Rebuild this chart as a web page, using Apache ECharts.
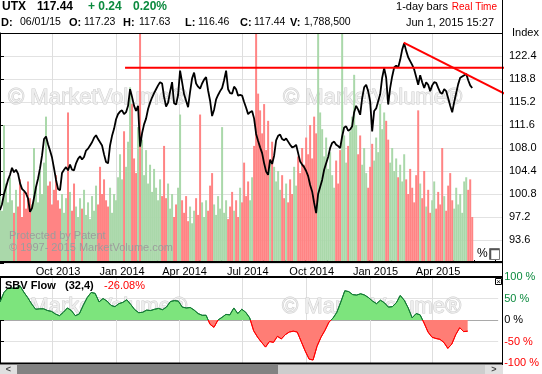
<!DOCTYPE html>
<html><head><meta charset="utf-8">
<script src="https://cdn.jsdelivr.net/npm/echarts@6/dist/echarts.min.js"></script>
<style>html,body{margin:0;padding:0;background:#fff}#c{width:542px;height:374px}</style>
</head><body><div id="c"></div>
<script>
// ---------------- data ----------------
const startDate = '2013-07-18';
const stepDays = 2.88;      // spacing of price / volume samples (days)
const sbvStepDays = 5.76;   // spacing of SBV samples (days)
const endDate = '2015-07-12';

const prices = [98.3,99.2,100.8,101.9,103.0,103.8,104.9,104.2,104.6,104.0,
102.5,101.6,101.3,100.9,100.1,98.0,98.6,100.2,101.9,103.2,
104.8,106.8,109.4,109.8,108.6,107.6,106.5,104.8,103.0,101.6,
101.4,104.1,104.6,105.0,104.5,105.4,104.6,104.5,105.6,106.3,
106.7,106.2,106.6,107.6,107.9,108.4,108.9,109.6,110.0,109.4,
108.9,108.4,107.0,105.8,105.6,108.4,109.9,111.0,112.5,113.3,
113.7,113.9,113.3,113.6,114.6,117.2,116.0,114.6,113.8,114.6,
108.2,110.3,111.7,112.6,114.1,115.1,115.9,116.6,117.2,117.8,
118.3,118.1,116.0,114.5,115.1,116.8,118.3,115.0,114.8,116.3,
120.1,118.3,116.4,115.4,114.4,116.8,118.9,119.8,118.1,117.6,
117.3,118.1,118.7,119.1,117.0,115.4,113.0,114.0,115.6,116.3,
116.9,117.4,118.6,120.1,117.2,116.6,116.5,117.6,117.2,116.2,
116.3,116.2,115.2,114.3,113.3,113.6,113.8,112.6,110.2,109.1,
108.1,107.2,105.6,104.3,103.8,106.2,105.5,106.8,109.2,109.9,
110.1,109.4,109.2,109.5,109.0,108.5,108.1,108.2,108.5,107.2,
105.9,105.4,105.0,104.4,103.6,102.2,101.2,99.4,97.8,100.8,
101.9,103.0,104.6,105.6,106.6,108.0,108.8,109.0,108.5,108.3,
108.0,109.8,111.2,111.4,110.7,110.9,111.4,113.6,114.6,114.0,
113.2,115.8,117.5,117.9,116.9,115.3,110.6,113.8,114.2,115.3,
116.4,119.0,120.5,119.0,114.8,117.4,119.2,120.6,120.9,120.6,
121.8,123.4,124.4,123.2,122.2,121.6,121.0,120.3,119.1,117.9,
119.4,118.3,117.4,118.3,117.9,116.9,117.8,118.3,118.2,117.4,
116.7,116.5,117.2,116.9,115.8,114.6,113.6,115.2,116.6,118.0,
119.0,119.2,119.4,119.6,118.6,117.8,117.4];

// volume, millions of shares
const volumes = [3.2,2.5,6.6,3.8,2.9,4.1,3.0,2.4,3.5,2.7,4.0,2.2,3.4,2.6,3.9,3.1,2.8,5.5,3.6,2.9,4.4,3.3,4.8,7.0,3.7,
3.9,2.8,3.5,4.2,3.0,2.6,3.3,2.4,3.1,7.2,3.4,2.5,3.8,2.7,2.2,3.1,2.6,3.5,2.3,2.9,2.1,3.2,2.5,3.7,2.8,4.6,3.3,4.0,3.0,2.7,3.6,2.4,3.3,
3.0,4.1,5.2,4.0,6.3,4.6,5.8,8.4,7.6,5.0,4.3,6.5,11.5,5.9,4.2,5.4,3.8,4.7,3.4,4.5,3.6,3.0,4.0,3.2,5.6,
3.1,3.8,2.6,3.3,2.2,2.8,3.6,7.1,3.0,2.4,3.2,2.0,2.7,1.9,2.5,3.1,2.3,7.1,2.9,2.2,3.0,2.5,3.7,4.3,2.8,2.3,3.2,2.6,6.5,2.4,3.0,2.1,2.7,3.4,2.5,3.0,2.2,3.6,2.9,4.8,3.2,3.9,3.0,
4.1,5.6,11.5,8.1,7.3,6.2,7.6,5.4,6.8,4.9,5.8,4.6,3.9,4.4,3.5,4.2,3.1,3.8,2.9,4.0,3.3,4.6,3.7,5.1,4.3,5.5,4.7,6.0,5.2,6.6,5.0,7.0,6.2,11.5,7.2,6.4,5.1,6.0,4.5,5.3,
4.2,3.6,4.9,3.8,5.4,11.3,6.1,4.8,5.6,6.3,7.0,9.0,6.6,5.2,6.1,4.7,5.5,4.3,3.6,4.6,5.7,4.9,6.0,5.3,7.6,6.4,7.2,6.8,5.9,4.8,5.5,4.4,5.0,4.1,4.7,
3.9,5.2,4.0,3.3,4.5,3.6,2.9,4.2,7.3,3.8,3.1,4.4,2.7,3.5,2.4,3.0,3.9,2.6,3.4,2.8,5.5,3.2,2.5,3.7,4.3,3.0,2.6,3.6,2.8,3.3,2.4,3.9,4.1,3.5,4.0,2.2];

// SBV Flow (32,4), percent
const sbvFlow = [42,64,74,74,74,80,65,52,37,25,26,26,22,20,14,10,18,28,22,10,
14,34,52,64,62,42,50,44,34,31,38,41,47,36,24,17,18,23,22,25,
27,24,30,43,45,44,30,28,29,23,15,11,11,-10,-17,0,6,13,12,28,
15,25,18,5,-25,-40,-52,-63,-50,-52,-38,-44,-34,-28,-26,-28,-50,-72,-91,-93,
-61,-40,-24,-5,4,18,42,68,66,59,58,61,58,52,44,38,46,40,30,31,
40,57,46,28,5,15,12,-7,-28,-40,-43,-45,-52,-66,-56,-34,-18,-27,-26];

const quarterTicks = ['2013-10-01','2014-01-01','2014-04-01','2014-07-01','2014-10-01','2015-01-01','2015-04-01'];
const quarterLabels = ['Oct 2013','Jan 2014','Apr 2014','Jul 2014','Oct 2014','Jan 2015','Apr 2015'];
const monthTicks = ['2013-08-01','2013-09-01','2013-10-01','2013-11-01','2013-12-01','2014-01-01','2014-02-01','2014-03-01',
'2014-04-01','2014-05-01','2014-06-01','2014-07-01','2014-08-01','2014-09-01','2014-10-01','2014-11-01','2014-12-01',
'2015-01-01','2015-02-01','2015-03-01','2015-04-01','2015-05-01','2015-06-01','2015-07-01'];
const priceMin = 90, priceMax = 126, priceStep = 3.6;

const trendFlat = [['2014-01-14',120.55],['2015-07-20',120.55]];
const trendDown = [['2015-02-19',124.5],['2015-07-20',116.2]];

// ---------------- build ----------------
const DAY = 86400000;
function ts(s){const p=s.split('-').map(Number);return Date.UTC(p[0],p[1]-1,p[2]);}
const t0 = ts(startDate);
function dayOf(s){return Math.round((ts(s)-t0)/DAY);}   // days since start
const RED = '#ff8484', GREEN = '#aad8aa';
const priceData = prices.map((v,i)=>[i*stepDays, v]);
const volData = volumes.map((v,i)=>({value:[i*stepDays, v],
  itemStyle:{color:(i>0 && prices[i] < prices[i-1]) ? RED : GREEN}}));
const sbvData = sbvFlow.map((v,i)=>[i*sbvStepDays, v]);
const qDays = quarterTicks.map(dayOf);
const mDays = monthTicks.map(dayOf);
const xMax = dayOf(endDate);
const FONT = '"Liberation Sans", Arial, sans-serif';

function txt(x,y,text,opt){
  opt = opt||{};
  const st = {text:text, font:(opt.bold?'bold ':'')+(opt.size||11)+'px '+FONT,
      fill:opt.color||'#000', align:opt.align||'left', verticalAlign:'middle',
      textAlign:opt.align||'left', textVerticalAlign:'middle'};
  if (opt.stroke) { st.stroke = opt.stroke; st.lineWidth = opt.lw||1; }
  return {type:'text', x:x, y:y, z:opt.z==null?100:opt.z, silent:true, style:st};
}
function rect(x,y,w,h,fill,stroke,z){
  const st = {fill:fill};
  if (stroke) { st.stroke = stroke; st.lineWidth = 1; }
  return {type:'rect', silent:true, z:z==null?100:z, shape:{x:x,y:y,width:w,height:h}, style:st};
}
function wm(x,y){
  return txt(x,y,'© MarketVolume®',{size:22,color:'#eeeeee',stroke:'#cccccc',lw:1,z:1});
}

const chart = echarts.init(document.getElementById('c'), null, {renderer:'canvas'});
chart.setOption({
  animation:false,
  backgroundColor:'#fff',
  grid:[
    {left:0, top:33, width:503, height:230},
    {left:0, top:277, width:503, height:86}
  ],
  xAxis:[
    {type:'value', gridIndex:0, min:0, max:xMax,
     axisLine:{show:false},
     axisTick:{show:true, inside:true, length:3, customValues:mDays, lineStyle:{color:'#000'}},
     axisLabel:{show:true, customValues:qDays, margin:3, fontSize:11, fontFamily:FONT, color:'#000',
       padding:[0,0,0,12],
       formatter:function(v){const k=qDays.indexOf(Math.round(v));return k>=0?quarterLabels[k]:'';}},
     splitLine:{show:false}},
    {type:'value', gridIndex:1, min:0, max:xMax,
     axisLine:{show:false}, axisTick:{show:false}, axisLabel:{show:false}, splitLine:{show:false}}
  ],
  yAxis:[
    {type:'value', gridIndex:0, position:'right', min:priceMin, max:priceMax, interval:priceStep,
     axisLine:{show:true, lineStyle:{color:'#000'}},
     axisTick:{show:true, length:4, lineStyle:{color:'#000'}},
     axisLabel:{margin:6, fontSize:11, fontFamily:FONT, color:'#000',
       formatter:function(v){ if(v<=priceMin+0.01||v>=priceMax-0.01) return ''; return v.toFixed(1);}},
     splitLine:{show:true, lineStyle:{color:'#e2e2e2', width:1}}},
    {type:'value', gridIndex:0, min:0, max:11, show:false, splitLine:{show:false}},
    {type:'value', gridIndex:1, position:'right', min:-100, max:100, interval:50,
     axisLine:{show:true, lineStyle:{color:'#000'}},
     axisTick:{show:true, length:4, lineStyle:{color:'#000'}},
     axisLabel:{margin:6, fontSize:11, fontFamily:FONT,
       formatter:function(v){ if(v>0) return '{g|'+v+' %}'; if(v<0) return '{r|'+v+' %}'; return '{k|0 %}'; },
       rich:{g:{color:'#0b8a3e',fontSize:11,fontFamily:FONT}, r:{color:'#ff0000',fontSize:11,fontFamily:FONT}, k:{color:'#000',fontSize:11,fontFamily:FONT}}},
     splitLine:{show:true, lineStyle:{color:['#e2e2e2','#e2e2e2','#a9a9a9','#e2e2e2','#e2e2e2'], width:1}}}
  ],
  visualMap:[
    {type:'piecewise', show:false, seriesIndex:4, dimension:1,
     pieces:[{min:-200, max:0, color:'#ff7d75'},{gt:0, lte:200, color:'#7de47d'}]},
    {type:'piecewise', show:false, seriesIndex:5, dimension:1,
     pieces:[{min:-200, max:0, color:'#ff0000'},{gt:0, lte:200, color:'#117a33'}]}
  ],
  series:[
    {type:'bar', xAxisIndex:0, yAxisIndex:1, data:volData, barWidth:2, z:2, silent:true},
    {type:'line', xAxisIndex:0, yAxisIndex:0, data:priceData, symbol:'none', z:5, silent:true,
     lineStyle:{color:'#000', width:1.8}},
    {type:'line', xAxisIndex:0, yAxisIndex:0, data:trendFlat.map(p=>[dayOf(p[0]),p[1]]), symbol:'none', z:6, clip:false, silent:true,
     lineStyle:{color:'#ff0000', width:2}},
    {type:'line', xAxisIndex:0, yAxisIndex:0, data:trendDown.map(p=>[dayOf(p[0]),p[1]]), symbol:'none', z:6, clip:false, silent:true,
     lineStyle:{color:'#ff0000', width:2}},
    {type:'line', xAxisIndex:1, yAxisIndex:2, data:sbvData, symbol:'none', z:3, silent:true,
     lineStyle:{width:0, opacity:0}, areaStyle:{opacity:1}},
    {type:'line', xAxisIndex:1, yAxisIndex:2, data:sbvData, symbol:'none', z:4, silent:true,
     lineStyle:{width:1}}
  ]
});

// vertical quarter gridlines, positioned through the x axis scale
const gridLines = [];
qDays.forEach(q => {
  const px = Math.round(chart.convertToPixel({xAxisIndex:0}, q)) + 0.5;
  const top0 = chart.convertToPixel({yAxisIndex:0}, priceMax), bot0 = chart.convertToPixel({yAxisIndex:0}, priceMin);
  const top1 = chart.convertToPixel({yAxisIndex:2}, 100), bot1 = chart.convertToPixel({yAxisIndex:2}, -100);
  gridLines.push({type:'line', silent:true, z:1, shape:{x1:px,y1:top0,x2:px,y2:bot0}, style:{stroke:'#dedede',lineWidth:1}});
  gridLines.push({type:'line', silent:true, z:1, shape:{x1:px,y1:top1,x2:px,y2:bot1}, style:{stroke:'#dedede',lineWidth:1}});
});

chart.setOption({graphic: gridLines.concat([
    wm(8,98), wm(283,98), wm(8,307), wm(282,307),
    txt(2,7,'UTX',{bold:true,size:12}),
    txt(37,7,'117.44',{bold:true,size:12}),
    txt(88,7,'+ 0.24',{bold:true,size:12,color:'#0b8a3e'}),
    txt(133,7,'0.20%',{bold:true,size:12,color:'#0b8a3e'}),
    txt(1,22.5,'D:',{bold:true}), txt(20,22.5,'06/01/15',{size:10.5}),
    txt(69,22.5,'O:',{bold:true}), txt(84,22.5,'117.23',{size:10.5}),
    txt(123,22.5,'H:',{bold:true}), txt(139,22.5,'117.63',{size:10.5}),
    txt(185,22.5,'L:',{bold:true}), txt(198,22.5,'116.46',{size:10.5}),
    txt(240,22.5,'C:',{bold:true}), txt(254,22.5,'117.44',{size:10.5}),
    txt(290,22.5,'V:',{bold:true}), txt(304,22.5,'1,788,500',{size:10.5}),
    txt(448,7,'1-day bars',{align:'right',size:11}),
    txt(497,7,'Real Time',{align:'right',size:10,color:'#ff0000'}),
    txt(494,22.5,'Jun 1, 2015 15:27',{align:'right'}),
    txt(512,33,'Index',{size:11}),
    {type:'line', silent:true, z:100, shape:{x1:0,y1:33.5,x2:503,y2:33.5}, style:{stroke:'#000',lineWidth:1}},
    {type:'line', silent:true, z:100, shape:{x1:502.5,y1:0,x2:502.5,y2:365}, style:{stroke:'#000',lineWidth:1}},
    rect(0,261,503,2,'#000'),
    rect(0,276,503,2,'#000'),
    rect(0,362.5,503,2,'#000'),
    txt(9,236,'Protected by Patent',{color:'#9c9c9c'}),
    txt(9,247.5,'© 1997- 2015 MarketVolume.com',{color:'#9c9c9c'}),
    txt(477,254,'%',{size:12}),
    rect(489.5,248.5,10,11,'#fff','#777'),
    {type:'polyline', silent:true, z:101, shape:{points:[[490.5,259],[490.5,249.5],[499,249.5]]}, style:{stroke:'#555',lineWidth:1.5,fill:'none'}},
    txt(5,286,'SBV Flow',{bold:true}),
    txt(65,286,'(32,4)',{bold:true}),
    txt(104,286,'-26.08%',{color:'#ff0000'}),
    rect(495.5,278.5,6,6,'#fff','#000'),
    txt(498.5,281.5,'×',{size:8,align:'center'}),
    rect(0,365,17,9,'#e0e0e0'),
    rect(17,365,261,9,'#828282'),
    rect(278,365,207,9,'#cdcdcd'),
    rect(485,365,18,9,'#e0e0e0'),
    txt(8.5,369.5,'<',{size:9,align:'center',color:'#444',bold:true}),
    txt(494,369.5,'>',{size:9,align:'center',color:'#444',bold:true})
  ])});
</script>
</body></html>
